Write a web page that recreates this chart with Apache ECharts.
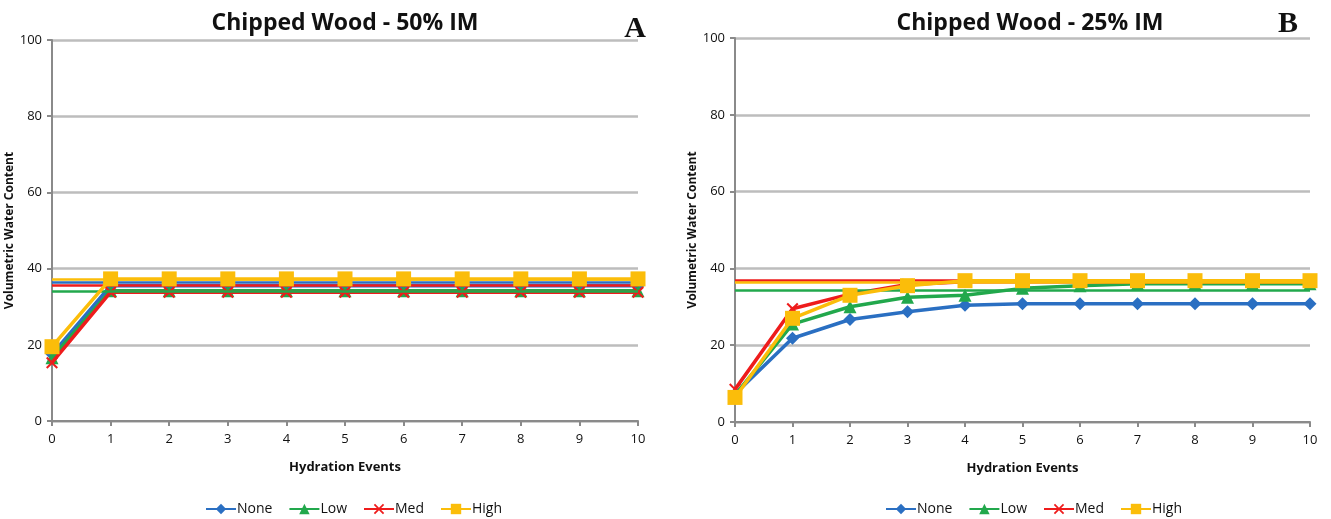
<!DOCTYPE html>
<html>
<head>
<meta charset="utf-8">
<script src="https://cdn.jsdelivr.net/npm/echarts@6/dist/echarts.min.js"></script>
<style>
  html, body { margin: 0; padding: 0; background: #fff; }
  #chart { width: 1331px; height: 519px; }
</style>
</head>
<body>
<div id="chart"></div>
<script>
// hydration events (x categories)
const events = ['0', '1', '2', '3', '4', '5', '6', '7', '8', '9', '10'];
const yTicks = [0, 20, 40, 60, 80, 100];
const names = ['None', 'Low', 'Med', 'High'];

// panel A: 50% IM
const noneA = [17.5, 35.5, 35.5, 35.5, 35.5, 35.5, 35.5, 35.5, 35.5, 35.5, 35.5];
const lowA  = [16.6, 34.2, 34.2, 34.2, 34.2, 34.2, 34.2, 34.2, 34.2, 34.2, 34.2];
const medA  = [15.3, 33.8, 33.8, 33.8, 33.8, 33.8, 33.8, 33.8, 33.8, 33.8, 33.8];
const highA = [19.5, 37.3, 37.3, 37.3, 37.3, 37.3, 37.3, 37.3, 37.3, 37.3, 37.3];
const refA  = [36.4, 34.0, 35.7, 37.2];   // None, Low, Med, High flat lines

// panel B: 25% IM
const noneB = [7.3, 21.8, 26.7, 28.7, 30.4, 30.8, 30.8, 30.8, 30.8, 30.8, 30.8];
const lowB  = [7.0, 25.5, 30.0, 32.5, 33.0, 34.8, 35.5, 36.0, 36.0, 36.0, 36.0];
const medB  = [8.5, 29.5, 33.3, 35.8, 36.5, 36.5, 36.5, 36.5, 36.5, 36.5, 36.5];
const highB = [6.4, 27.0, 33.0, 35.5, 36.8, 36.8, 36.8, 36.8, 36.8, 36.8, 36.8];
const refB  = [null, 34.4, 37.0, 36.3];

const colors = ['#2a6fc2', '#22a84c', '#ee1c1c', '#fbbd0a'];
const xMark = 'path://M0,1.2L1.2,0L5,3.8L8.8,0L10,1.2L6.2,5L10,8.8L8.8,10L5,6.2L1.2,10L0,8.8L3.8,5Z';
const symbols = ['diamond', 'triangle', xMark, 'rect'];
const symbolSizes = [13, 13, 12, 15];

const font = 'Open Sans, Liberation Sans, Arial, sans-serif';

function makeSeries(idx, dataSets, refs) {
  return dataSets.map((d, i) => ({
    name: names[i],
    type: 'line',
    xAxisIndex: idx,
    yAxisIndex: idx,
    data: d,
    symbol: symbols[i],
    symbolSize: symbolSizes[i],
    showAllSymbol: true,
    lineStyle: { width: 3.5, color: colors[i] },
    itemStyle: { color: colors[i] },
    z: 2 + i,
    markLine: refs[i] == null ? undefined : {
      silent: true,
      symbol: 'none',
      label: { show: false },
      lineStyle: { type: 'solid', width: 2.5, color: colors[i] },
      data: [{ yAxis: refs[i] }],
    },
  }));
}

function xAxis(idx) {
  return {
    gridIndex: idx,
    type: 'category',
    data: events,
    boundaryGap: false,
    name: 'Hydration Events',
    nameLocation: 'middle',
    nameGap: 40,
    nameTextStyle: { fontFamily: font, fontWeight: 'bold', fontSize: 13, color: '#111' },
    axisLine: { lineStyle: { color: '#8a8a8a', width: 2 } },
    axisTick: { show: true, length: 5, lineStyle: { color: '#8a8a8a', width: 2 } },
    axisLabel: { fontFamily: font, fontSize: 13, color: '#111', margin: 12 },
    splitLine: { show: false },
  };
}

function yAxis(idx) {
  return {
    gridIndex: idx,
    type: 'value',
    min: yTicks[0],
    max: yTicks[yTicks.length - 1],
    interval: yTicks[1] - yTicks[0],
    name: 'Volumetric Water Content',
    nameLocation: 'middle',
    nameGap: 26,
    nameTextStyle: { fontFamily: font, fontWeight: 'bold', fontSize: 12, color: '#111' },
    axisLine: { show: true, lineStyle: { color: '#8a8a8a', width: 2 } },
    axisTick: { show: true, length: 5, lineStyle: { color: '#8a8a8a', width: 2 } },
    axisLabel: { fontFamily: font, fontSize: 13, color: '#111', margin: 10 },
    splitLine: { lineStyle: { color: '#bdbdbd', width: 2.5 } },
  };
}

const titleStyle = { fontFamily: font, fontWeight: 'bold', fontSize: 23, color: '#111' };
const letterStyle = { fontFamily: 'Liberation Serif, DejaVu Serif, serif', fontWeight: 'bold', fontSize: 30, color: '#111' };
const legendText = { fontFamily: font, fontSize: 14, color: '#111', padding: [0, 0, 0, -4] };

const chart = echarts.init(document.getElementById('chart'));
chart.setOption({
  animation: false,
  backgroundColor: '#fff',
  title: [
    { text: 'Chipped Wood - 50% IM', left: 340, top: 7, textAlign: 'center', textStyle: titleStyle },
    { text: 'Chipped Wood - 25% IM', left: 1025, top: 7, textAlign: 'center', textStyle: titleStyle },
    { text: 'A', left: 630, top: 9, textAlign: 'center', textStyle: letterStyle },
    { text: 'B', left: 1283, top: 4, textAlign: 'center', textStyle: letterStyle },
  ],
  legend: [
    { data: names, left: 200, top: 497, itemWidth: 30, itemHeight: 13, itemGap: 16, textStyle: legendText },
    { data: names, left: 880, top: 497, itemWidth: 30, itemHeight: 13, itemGap: 16, textStyle: legendText },
  ],
  grid: [
    { left: 52, right: 693, top: 40, bottom: 98 },
    { left: 735, right: 21, top: 38, bottom: 97 },
  ],
  xAxis: [xAxis(0), xAxis(1)],
  yAxis: [yAxis(0), yAxis(1)],
  series: [
    ...makeSeries(0, [noneA, lowA, medA, highA], refA),
    ...makeSeries(1, [noneB, lowB, medB, highB], refB),
  ],
});
window.addEventListener('resize', () => { chart.resize(); });
</script>
</body>
</html>
